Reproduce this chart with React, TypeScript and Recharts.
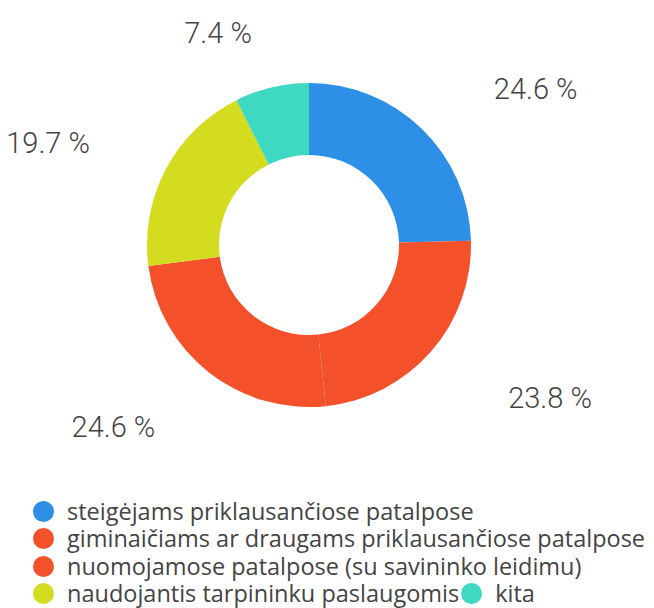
import React from 'react';
import { PieChart, Pie, Cell, Legend } from 'recharts';

const categories = [
  'steigėjams priklausančiose patalpose',
  'giminaičiams ar draugams priklausančiose patalpose',
  'nuomojamose patalpose (su savininko leidimu)',
  'naudojantis tarpininku paslaugomis',
  'kita',
];
const shares = [24.6, 23.8, 24.6, 19.7, 7.4];
const colors = ['#2E8FE7', '#F4512A', '#F4512A', '#D4DC1F', '#3ED8C3'];

const data = categories.map((name, i) => ({ name, value: shares[i] }));

const RAD = Math.PI / 180;
const FONT = 'Roboto, "Open Sans", sans-serif';

const renderLabel = (props: any) => {
  const { cx, cy, midAngle, value } = props;
  const cos = Math.cos(-midAngle * RAD);
  const sin = Math.sin(-midAngle * RAD);
  // labels hang off a loose ellipse round the ring, anchored away from it
  const x = cx + (cos >= 0 ? 265 : 248) * cos;
  const y = cy + (sin >= 0 ? 232 : 218) * sin;
  return (
    <text
      x={x}
      y={y}
      textAnchor={cos >= 0 ? 'start' : 'end'}
      dominantBaseline="central"
      fill="#444"
      fontSize={29}
      fontFamily={FONT}
      fontWeight={300}
    >
      {`${value.toFixed(1)} %`}
    </text>
  );
};

const LegendContent = ({ payload }: any) => {
  const items = [...(payload || [])].sort(
    (a: any, b: any) => categories.indexOf(a.value) - categories.indexOf(b.value)
  );
  return (
    <div style={{ display: 'flex', flexWrap: 'wrap', width: 640, fontFamily: '"Open Sans", sans-serif' }}>
      {items.map((p: any, i: number) => (
        <div key={i} style={{ display: 'flex', alignItems: 'center', height: 27.3, marginRight: 2 }}>
          <span
            style={{
              display: 'inline-block',
              width: 21,
              height: 21,
              borderRadius: '50%',
              background: p.color || colors[i],
              marginRight: 13,
            }}
          />
          <span style={{ fontSize: 23.5, lineHeight: '27px', color: '#444', whiteSpace: 'nowrap' }}>
            {p.value}
          </span>
        </div>
      ))}
    </div>
  );
};

export default function App() {
  return (
    <div style={{ position: 'absolute', left: 0, top: 0, width: 654, height: 608, background: '#fff', overflow: 'hidden' }}>
      <PieChart width={654} height={608}>
        <Pie
          data={data}
          dataKey="value"
          nameKey="name"
          cx={304}
          cy={240}
          innerRadius={90}
          outerRadius={162}
          startAngle={90}
          endAngle={-270}
          stroke="none"
          label={renderLabel}
          labelLine={false}
          isAnimationActive={false}
        >
          {data.map((d, i) => (
            <Cell key={d.name} fill={colors[i]} />
          ))}
        </Pie>
        <Legend
          content={<LegendContent />}
          wrapperStyle={{ left: 33, top: 498, width: 640 }}
        />
      </PieChart>
    </div>
  );
}
